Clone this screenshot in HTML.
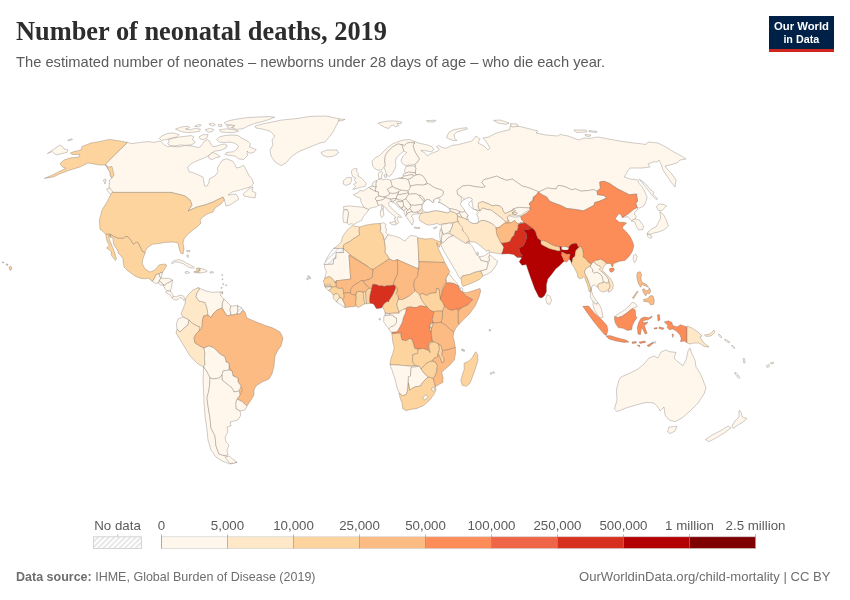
<!DOCTYPE html>
<html><head><meta charset="utf-8">
<style>
html,body{margin:0;padding:0;background:#fff;}
body{width:850px;height:600px;position:relative;overflow:hidden;font-family:"Liberation Sans",sans-serif;}
svg{position:absolute;left:0;top:0;}
text{font-family:"Liberation Sans",sans-serif;}
.title{font-family:"Liberation Serif",serif;font-weight:bold;font-size:27px;fill:#2d2d2d;}
.sub{font-size:15px;fill:#5b5b5b;}
.lg{font-size:13.3px;fill:#5b5b5b;}
.ft{font-size:13px;fill:#6e6e6e;}
</style></head><body>
<svg width="850" height="600" viewBox="0 0 850 600">
<defs>
<pattern id="hatch" patternUnits="userSpaceOnUse" width="3.8" height="3.8" patternTransform="rotate(45)"><rect width="3.8" height="3.8" fill="#fff"/><rect x="0" y="0" width="1.7" height="3.8" fill="#e4e4e4"/></pattern>
</defs>
<text class="title" x="16" y="40" textLength="371" lengthAdjust="spacingAndGlyphs">Number of neonatal deaths, 2019</text>
<text class="sub" x="16" y="66.5" textLength="589" lengthAdjust="spacingAndGlyphs">The estimated number of neonates – newborns under 28 days of age – who die each year.</text>
<!-- logo -->
<rect x="769" y="16" width="65" height="36" fill="#002147"/>
<rect x="769" y="49" width="65" height="3" fill="#ce261e"/>
<text x="774" y="30.4" font-weight="bold" font-size="11.4" fill="#fff" textLength="55" lengthAdjust="spacingAndGlyphs">Our World</text>
<text x="783.4" y="42.6" font-weight="bold" font-size="11.4" fill="#fff" textLength="35.8" lengthAdjust="spacingAndGlyphs">in Data</text>
<!-- MAP -->
<g id="map" stroke="#5f554d" stroke-width="0.3" stroke-linejoin="round">
<polygon fill="#fdbb84" stroke="#fdbb84" stroke-width="0.5" points="241.0,386.0 242.4,390.0 240.0,395.0 239.0,391.0 241.0,386.0"/>
<polygon fill="#fdbb84" stroke="#fdbb84" stroke-width="0.5" points="232.0,371.0 229.0,370.0 229.0,367.0 232.0,371.0"/>
<polygon fill="#fff7ec" stroke="#fff7ec" stroke-width="0.5" points="222.4,308.0 225.0,313.0 222.0,308.0 222.4,303.0 222.4,308.0"/>
<polygon fill="#fff7ec" stroke="#fff7ec" stroke-width="0.5" points="401.2,190.2 400.0,190.6 398.8,189.4 401.2,190.2"/>
<polygon fill="#fdbb84" stroke="#fdbb84" stroke-width="0.5" points="363.9,280.9 363.2,281.1 360.9,280.5 363.9,280.9"/>
<polygon fill="#fdbb84" stroke="#fdbb84" stroke-width="0.5" points="350.1,254.7 368.2,266.7 349.0,255.4 350.1,254.7"/>
<polygon fill="#fdd49e" stroke="#fdd49e" stroke-width="0.5" points="432.5,360.5 435.3,361.9 430.3,361.2 432.5,360.5"/>
<polygon fill="#fdd49e" stroke="#fdd49e" stroke-width="0.5" points="428.9,346.3 430.3,352.7 428.9,350.6 423.2,348.5 428.8,350.6 428.3,346.5 429.0,342.2 432.6,341.5 431.9,338.0 432.6,341.4 434.6,342.1 430.3,342.8 428.9,346.3"/>
<polygon fill="#fdbb84" stroke="#fdbb84" stroke-width="0.5" points="431.9,326.7 431.2,332.3 431.6,328.1 431.9,326.7"/>
<polygon fill="#fc8d59" stroke="#fc8d59" stroke-width="0.5" points="458.1,311.1 456.7,309.0 462.3,307.5 458.1,311.1"/>
<polygon fill="#fff7ec" stroke="#fff7ec" stroke-width="0.5" points="566.7,246.9 568.8,247.6 568.7,248.7 566.7,246.9"/>
<polygon fill="#d7301f" stroke="#d7301f" stroke-width="0.5" points="523.7,223.3 524.4,222.6 527.3,224.4 525.1,223.7 523.7,223.3"/>
<polygon fill="#fff7ec" stroke="#fff7ec" stroke-width="0.5" points="514.4,217.2 511.5,216.5 509.0,215.8 507.5,217.0 509.4,215.1 515.1,215.1 516.5,215.8 521.4,215.1 525.0,212.2 530.2,209.6 529.7,210.5 526.2,213.3 521.2,216.2 520.8,216.5 518.0,216.9 514.4,217.2"/>
<polygon fill="#fc8d59" stroke="#fc8d59" stroke-width="0.5" points="530.5,206.6 531.2,207.7 530.4,209.2 528.5,208.0 530.5,206.6"/>
<polygon fill="#fc8d59" stroke="#fc8d59" stroke-width="0.5" points="532.1,200.9 533.5,196.7 536.8,194.4 536.1,195.6 533.3,197.7 534.0,200.6 530.5,202.7 529.5,203.7 529.2,203.0 532.1,200.9"/>
<polygon fill="#fdbb84" stroke="#fdbb84" stroke-width="0.5" points="446.1,279.1 446.7,282.7 445.3,285.6 443.2,289.8 441.8,294.8 440.1,299.0 443.4,285.8 445.5,283.0 446.1,279.1"/>
<polygon fill="#fff7ec" stroke="#fff7ec" stroke-width="0.5" points="418.9,263.9 418.4,250.4 418.9,261.7 418.9,263.9"/>
<polygon fill="#fdbb84" stroke="#fdbb84" stroke-width="0.5" points="398.4,299.4 398.0,295.8 399.1,299.4 398.4,299.4"/>
<polygon fill="#fff7ec" stroke="#fff7ec" stroke-width="0.5" points="408.4,383.2 407.7,390.2 408.4,376.8 408.4,383.2"/>
<polygon fill="#fff7ec" stroke="#fff7ec" stroke-width="0.5" points="538.4,192.0 538.3,192.0 538.4,192.0 538.4,192.0"/>
<polygon fill="#fff7ec" stroke="#fff7ec" stroke-width="0.5" points="450.3,230.9 449.2,233.6 446.0,233.6 450.3,230.9"/>
<polygon fill="#fee8c8" stroke="#fee8c8" stroke-width="0.5" points="468.0,242.8 466.1,243.2 466.8,242.1 468.1,241.6 467.5,241.9 468.0,242.8"/>
<polygon fill="#fee8c8" stroke="#fee8c8" stroke-width="0.5" points="450.5,223.0 450.9,223.0 454.1,222.4 454.5,222.4 452.9,224.0 450.5,223.0"/>
<polygon fill="#fdbb84" stroke="#fdbb84" stroke-width="0.5" points="509.4,223.0 504.3,223.3 499.3,227.3 496.1,228.0 496.0,228.9 495.7,227.6 496.1,228.0 499.2,227.3 504.3,223.3 505.9,222.2 508.0,220.7 507.4,217.8 507.9,219.4 509.0,220.4 509.4,223.0"/>
<polygon fill="#fee8c8" stroke="#fee8c8" stroke-width="0.5" points="483.4,220.4 483.9,220.3 483.9,220.3 483.4,220.4"/>
<polygon fill="#fff7ec" stroke="#fff7ec" stroke-width="0.5" points="486.7,221.4 488.2,221.9 492.5,224.0 493.4,224.9 492.5,224.0 488.2,221.9 486.7,221.4"/>
<polygon fill="#fee8c8" stroke="#fee8c8" stroke-width="0.5" points="496.8,234.7 496.7,234.3 497.2,235.2 497.3,235.8 496.8,234.7"/>
<polygon fill="#fee8c8" stroke="#fee8c8" stroke-width="0.5" points="463.2,230.6 463.1,231.0 462.0,229.9 462.2,229.0 463.2,230.6"/>
<polygon fill="#fff7ec" stroke="#fff7ec" stroke-width="0.5" points="488.0,264.6 487.3,261.7 489.4,260.3 488.0,264.6"/>
<polygon fill="#fdd49e" stroke="#fdd49e" stroke-width="0.5" points="591.2,264.8 590.5,265.9 589.1,266.6 591.2,264.8"/>
<polygon fill="#fee8c8" stroke="#fee8c8" stroke-width="0.5" points="603.2,281.4 604.6,282.1 602.5,282.8 603.2,281.4"/>
<polygon fill="#fff7ec" points="47.4,153.6 60.0,145.0 63.0,147.0 64.0,149.0 68.0,150.0 67.0,152.4 60.0,154.0 56.0,155.0 52.4,151.6"/>
<polygon fill="#fff7ec" points="67.6,140.0 72.0,138.8 72.4,139.8 68.4,140.8"/>
<polygon fill="#fff7ec" points="127.4,142.4 132.0,143.6 140.0,142.4 148.0,141.6 154.0,142.4 160.0,141.0 164.2,144.7 167.7,146.8 171.2,146.1 178.3,146.8 185.4,145.4 192.5,146.1 198.2,147.5 200.3,146.8 202.4,144.0 204.5,141.1 207.4,139.7 209.5,141.1 210.9,144.0 213.0,146.8 216.6,146.1 220.8,144.7 224.4,144.0 227.2,145.4 225.8,148.2 220.8,150.3 215.2,151.0 212.3,152.5 208.1,156.0 203.8,158.1 196.7,160.9 191.1,163.8 187.5,167.3 189.0,171.6 193.9,173.0 198.9,175.1 203.1,177.2 203.8,181.5 204.5,185.7 206.7,186.4 208.8,182.9 209.5,178.7 215.2,175.8 218.0,171.6 217.3,168.0 219.4,164.5 222.2,160.2 226.5,158.8 232.2,160.9 235.0,164.5 236.4,168.0 239.9,167.3 243.5,165.2 246.3,170.2 249.2,175.8 252.0,179.0 253.6,184.0 250.0,187.0 240.0,190.0 232.0,192.0 228.0,195.0 236.0,194.0 239.0,199.0 230.0,205.0 226.0,206.0 225.0,202.0 224.4,200.0 223.0,197.0 219.0,199.0 213.0,202.0 205.0,205.0 197.0,207.0 188.0,211.0 192.0,205.0 190.0,200.0 185.0,196.0 179.0,194.4 171.0,192.4 112.0,192.4 110.4,192.6 109.0,188.0 109.6,180.0 112.0,178.0 110.4,176.0 110.0,172.0 108.0,169.0 105.4,164.0"/>
<polygon fill="#fff7ec" points="106.4,189.0 110.0,188.0 114.4,194.0 113.0,196.4 109.0,193.0"/>
<polygon fill="#fff7ec" points="103.4,180.0 106.0,179.0 105.0,184.0"/>
<polygon fill="#fdd49e" points="127.4,142.4 120.0,141.0 109.6,139.4 100.0,141.4 91.0,143.0 82.0,146.4 81.0,150.0 74.0,151.6 70.4,153.0 72.0,154.4 80.0,154.4 79.0,157.0 70.0,158.0 64.0,160.0 60.0,163.6 62.4,167.0 66.0,168.4 60.0,171.0 52.4,175.0 44.4,178.4 53.0,177.0 62.0,173.0 70.0,170.0 80.0,167.0 88.0,163.0 94.0,164.0 100.0,165.0 105.0,165.0 108.0,167.0 112.0,166.6 113.0,171.0 114.0,175.0 112.0,178.0 110.4,176.0 110.0,172.0 108.0,169.0 105.4,164.0"/>
<polygon fill="#fff7ec" points="159.2,138.3 162.7,135.5 167.7,133.3 174.1,133.0 179.0,134.7 176.9,136.9 171.2,138.3 165.6,139.7 161.3,140.4"/>
<polygon fill="#fff7ec" points="168.4,139.7 172.7,138.3 179.7,136.9 186.8,136.2 191.1,135.5 193.9,136.9 192.5,139.7 195.3,142.1 191.8,144.7 186.1,145.4 180.5,144.9 174.8,146.1 169.8,145.4 167.7,144.0 169.1,141.8"/>
<polygon fill="#fff7ec" points="175.5,129.1 181.2,127.0 188.2,126.2 189.7,127.7 185.4,129.1 190.4,129.8 195.3,128.4 200.3,129.1 199.6,131.2 193.9,132.2 188.2,132.6 182.6,131.9 178.3,130.5"/>
<polygon fill="#fff7ec" points="194.6,126.2 198.9,124.5 201.3,125.1 198.2,127.0"/>
<polygon fill="#fff7ec" points="198.9,136.9 203.1,134.7 208.1,134.5 206.7,138.3 203.1,139.7 200.3,139.0"/>
<polygon fill="#fff7ec" points="205.2,129.8 209.5,128.4 213.7,129.4 212.3,131.6 208.1,132.2"/>
<polygon fill="#fff7ec" points="208.8,124.1 213.0,123.1 215.4,124.8 212.3,126.0"/>
<polygon fill="#fff7ec" points="218.0,124.8 221.5,124.5 222.2,126.2 219.1,126.5"/>
<polygon fill="#fff7ec" points="219.4,129.8 226.5,128.8 235.0,129.8 238.5,131.2 233.6,132.6 226.5,132.6 220.8,131.9"/>
<polygon fill="#fff7ec" points="224.4,122.7 229.3,120.6 236.4,119.2 246.3,117.7 257.6,117.0 270.0,116.6 274.6,117.2 270.0,119.2 263.3,121.3 254.8,123.4 247.7,126.2 242.8,128.8 236.4,129.4 231.4,127.7 235.0,125.5 229.3,124.8 225.8,124.5"/>
<polygon fill="#fff7ec" points="226.5,126.0 231.4,125.1 233.6,127.0 229.3,128.4"/>
<polygon fill="#fff7ec" points="216.6,139.7 219.4,136.9 225.1,135.5 232.2,135.0 237.8,135.5 242.1,138.3 247.7,141.1 250.6,144.0 249.2,146.8 256.2,149.6 253.4,152.5 249.2,153.2 247.0,151.0 247.7,155.3 243.5,159.5 238.5,158.8 235.0,156.0 229.3,155.3 225.1,154.6 226.5,152.5 233.6,151.7 237.1,148.9 238.5,146.1 235.0,143.2 229.3,142.1 223.7,142.5 219.4,142.1"/>
<polygon fill="#fff7ec" points="208.1,156.0 212.3,152.5 216.6,153.9 220.1,156.7 215.9,157.7 212.3,159.5 209.5,158.8"/>
<polygon fill="#fff7ec" points="243.0,194.0 250.0,188.0 253.0,187.0 252.0,191.0 256.0,193.0 255.0,198.0 249.0,197.0 244.0,196.0"/>
<polygon fill="#fff7ec" points="255.0,126.0 264.0,123.6 282.0,120.0 298.0,118.4 310.0,116.4 326.0,116.0 340.0,119.0 337.0,124.0 333.0,132.0 330.0,136.0 325.0,142.0 320.0,143.0 310.0,147.0 300.0,151.0 292.0,156.0 286.0,163.0 281.0,165.6 275.0,162.0 271.0,156.0 270.0,150.0 273.0,145.0 272.0,140.0 275.0,136.0 270.0,131.0 262.0,129.0 256.0,128.0"/>
<polygon fill="#fff7ec" points="321.0,152.4 327.0,150.0 337.0,150.0 338.6,153.0 334.0,156.0 328.0,157.0 323.0,155.6"/>
<polygon fill="#fdd49e" points="112.0,192.4 171.0,192.4 179.0,194.4 185.0,196.0 190.0,200.0 192.0,205.0 188.0,211.0 197.0,207.0 205.0,205.0 213.0,202.0 219.0,199.0 223.0,197.0 224.4,200.0 221.0,204.0 215.0,208.0 213.0,212.0 207.0,214.0 203.0,217.0 200.0,220.0 201.0,223.0 197.0,227.0 193.0,230.0 187.0,235.0 184.0,239.0 183.0,243.0 184.0,249.0 183.0,254.0 180.6,253.0 179.0,248.0 178.0,243.0 173.0,242.0 165.0,242.4 159.0,243.6 153.0,244.0 148.0,247.0 145.0,251.6 145.2,252.6 142.3,251.5 140.9,248.7 138.0,242.6 136.2,242.2 133.4,244.4 130.8,240.4 128.0,236.8 125.1,236.5 123.7,238.3 117.9,238.3 113.6,236.5 110.4,234.3 105.8,234.3 102.9,231.5 100.0,229.3 99.4,220.0 102.0,210.0 107.0,202.0 110.0,196.0"/>
<polygon fill="#fdd49e" points="110.4,234.3 113.6,236.5 117.9,238.3 123.7,238.3 125.1,236.5 128.0,236.8 130.8,240.4 133.4,244.4 136.2,242.2 138.0,242.6 140.9,248.7 142.3,251.5 145.2,252.6 144.1,255.8 142.7,259.4 142.3,263.7 145.0,269.0 150.0,272.0 155.0,270.0 159.0,265.0 164.0,264.0 166.6,265.0 165.6,267.6 164.0,270.3 162.4,272.4 160.3,272.9 159.2,274.0 156.0,274.5 154.9,277.7 152.3,281.4 151.2,280.4 148.5,278.3 144.3,278.8 140.0,278.2 135.0,276.0 128.0,271.0 124.0,267.0 123.0,261.0 123.0,258.7 120.1,255.1 117.9,253.0 118.3,251.9 116.5,248.7 114.0,245.1 113.3,241.5 112.8,237.8 110.4,237.2"/>
<polygon fill="#fdd49e" points="105.8,234.3 110.4,234.3 110.4,237.2 109.3,235.0 109.0,237.5 109.7,240.4 111.1,243.6 112.6,247.2 114.0,250.8 115.4,255.1 116.5,258.7 115.4,260.5 114.0,258.7 112.2,256.5 111.1,254.4 111.5,251.9 109.3,250.1 106.5,247.9 108.3,246.5 109.3,245.1 107.5,242.2 106.5,239.3 106.1,236.5"/>
<polygon fill="#fff7ec" points="152.3,281.4 154.9,277.7 156.0,274.5 159.2,274.0 159.7,276.1 160.8,278.3 159.2,280.9 158.1,283.0 156.0,283.6 153.9,282.5"/>
<polygon fill="#fff7ec" points="160.3,272.9 162.4,272.4 161.9,275.6 160.8,278.3 159.7,276.1 159.2,274.0"/>
<polygon fill="#fff7ec" points="160.8,278.3 164.5,278.3 168.8,278.3 172.5,279.9 170.4,282.0 167.2,283.0 165.1,285.2 163.5,285.2 161.9,283.0 159.2,280.9"/>
<polygon fill="#fff7ec" points="158.1,283.0 159.2,280.9 161.9,283.0 163.5,285.2 160.8,285.2"/>
<polygon fill="#fff7ec" points="163.5,285.2 165.1,285.2 167.2,283.0 170.4,282.0 172.5,279.9 172.0,284.1 171.4,287.8 170.4,291.0 167.2,291.0 165.1,288.9"/>
<polygon fill="#fff7ec" points="167.2,291.0 170.4,291.0 172.0,293.7 173.6,296.4 172.0,298.0 170.4,295.3 167.7,293.7 165.6,292.1"/>
<polygon fill="#fff7ec" points="172.0,298.0 173.6,296.4 176.2,296.9 179.4,295.3 182.1,295.3 184.2,296.9 185.3,299.6 183.7,300.6 182.6,298.5 180.0,297.4 177.8,299.6 175.7,300.1 173.0,299.0"/>
<polygon fill="#fff7ec" points="171.4,262.8 174.1,260.7 178.4,259.6 182.6,260.7 186.9,263.3 191.2,265.5 194.4,267.1 193.3,268.1 189.0,267.6 186.9,266.0 183.7,263.9 179.4,262.3 175.2,261.9 172.0,263.6"/>
<polygon fill="#fdd49e" points="196.5,268.1 199.7,268.1 200.2,270.8 198.1,271.3 199.2,272.9 194.4,272.6 193.8,271.6 197.0,271.3"/>
<polygon fill="#fff7ec" points="199.7,268.1 204.0,269.2 207.2,270.8 206.6,271.9 203.4,272.4 200.8,272.9 199.2,272.9 198.1,271.3 200.2,270.8"/>
<polygon fill="#fff7ec" points="185.0,271.9 187.4,271.3 189.6,272.4 188.0,273.5 185.6,273.2"/>
<polygon fill="#fff7ec" points="209.8,271.9 213.0,271.6 213.6,272.6 210.4,273.2"/>
<polygon fill="#fff7ec" points="186.9,254.8 188.5,255.3 188.2,257.5 187.1,256.9"/>
<polygon fill="#fff7ec" points="186.4,250.5 190.1,250.5 189.6,251.9 186.9,251.6"/>
<polygon fill="#fff7ec" points="219.4,292.1 222.6,291.6 222.9,293.2 220.0,293.7"/>
<polygon fill="#fff7ec" points="221.7,274.6 222.5,274.6 222.5,275.5 221.7,275.5"/>
<polygon fill="#fff7ec" points="222.2,278.9 223.0,278.9 223.0,279.7 222.2,279.7"/>
<polygon fill="#fff7ec" points="222.7,283.7 223.6,283.7 223.6,284.5 222.7,284.5"/>
<polygon fill="#fff7ec" points="221.1,287.4 222.0,287.4 222.0,288.3 221.1,288.3"/>
<polygon fill="#fff7ec" points="225.7,284.8 226.6,284.8 226.6,285.6 225.7,285.6"/>
<polygon fill="#fee8c8" points="185.6,299.0 188.0,295.0 193.0,290.0 198.4,287.6 199.6,289.0 197.0,293.0 196.0,297.0 199.0,301.0 205.0,302.4 207.0,308.0 208.0,315.0 203.6,316.0 202.4,321.0 202.0,328.0 199.0,331.0 200.0,327.0 197.0,326.0 192.0,323.0 189.0,320.0 183.0,317.0 181.0,314.0 183.0,309.0 185.0,304.0"/>
<polygon fill="#fff7ec" points="198.4,287.6 199.6,289.0 197.0,293.0 196.0,297.0 199.0,301.0 205.0,302.4 207.0,308.0 208.0,315.0 211.0,317.6 213.0,314.0 217.0,310.0 222.0,308.0 222.4,303.0 224.0,299.0 220.0,295.0 223.0,293.0 218.0,292.0 212.0,292.4 206.0,291.0 201.0,289.0"/>
<polygon fill="#fff7ec" points="224.0,299.0 228.0,303.0 231.0,306.0 230.0,310.0 231.0,315.0 227.0,316.0 225.0,313.0 222.4,308.0 222.4,303.0"/>
<polygon fill="#fff7ec" points="231.0,306.0 237.6,305.6 238.0,310.0 237.0,314.0 233.0,315.0 231.0,315.0 230.0,310.0"/>
<polygon fill="url(#hatch)" points="237.6,305.6 242.0,308.0 243.0,310.0 240.0,314.0 237.0,314.0 238.0,310.0"/>
<polygon fill="#fff7ec" points="183.0,317.0 189.0,320.0 188.0,325.0 183.0,329.0 180.0,332.0 177.0,329.0 176.4,324.0 178.0,319.0"/>
<polygon fill="#fee8c8" points="177.0,329.0 180.0,332.0 183.0,329.0 188.0,325.0 189.0,320.0 192.0,323.0 197.0,326.0 200.0,327.0 199.0,331.0 196.0,334.0 194.0,338.0 195.0,343.0 200.0,346.0 204.0,348.0 205.0,354.0 204.4,358.0 205.0,364.0 203.6,367.0 198.0,364.0 190.0,356.0 184.0,346.0 179.0,338.0 176.0,333.0"/>
<polygon fill="#fdbb84" points="208.0,315.0 211.0,317.6 213.0,314.0 217.0,310.0 222.0,308.0 225.0,313.0 227.0,316.0 231.0,315.0 233.0,315.0 237.0,314.0 240.0,314.0 243.0,310.0 245.0,312.0 247.0,318.0 254.0,321.0 264.0,325.0 273.0,328.0 280.0,332.0 283.0,338.0 281.0,346.0 278.0,350.0 275.0,356.0 274.0,366.0 272.0,374.0 269.0,379.0 262.0,382.0 256.0,386.0 254.0,390.0 254.0,395.0 251.0,400.0 247.0,406.0 242.0,401.6 237.0,399.0 240.0,395.0 242.4,390.0 241.0,386.0 238.0,382.0 238.0,378.0 233.0,376.0 232.0,371.0 229.0,367.0 229.0,363.0 226.0,362.0 225.0,357.0 220.0,354.0 214.0,348.0 209.0,346.0 204.0,348.0 200.0,346.0 195.0,343.0 194.0,338.0 196.0,334.0 199.0,331.0 202.0,328.0 202.4,321.0 203.6,316.0"/>
<polygon fill="#fff7ec" points="204.0,348.0 209.0,346.0 214.0,348.0 220.0,354.0 225.0,357.0 226.0,362.0 229.0,363.0 229.0,367.0 229.0,370.0 223.0,371.0 222.0,375.0 219.0,378.0 214.0,379.0 210.0,378.0 207.0,372.0 203.6,367.0 205.0,364.0 204.4,358.0 205.0,354.0"/>
<polygon fill="#fff7ec" points="222.0,375.0 223.0,371.0 229.0,370.0 232.0,371.0 233.0,376.0 238.0,378.0 238.0,382.0 241.0,386.0 239.0,391.0 234.0,392.0 232.0,388.0 227.0,384.0 222.0,380.0"/>
<polygon fill="#fff7ec" points="237.0,399.0 242.0,401.6 247.0,406.0 245.0,410.0 240.0,411.0 236.0,409.0 235.6,403.0"/>
<polygon fill="#fff7ec" points="203.6,367.0 203.0,380.0 203.6,390.0 204.0,402.0 205.0,416.0 207.0,430.0 208.0,440.0 211.0,450.0 216.0,457.0 222.0,461.0 230.0,464.0 237.0,462.4 230.0,459.0 227.0,456.0 224.0,455.6 219.0,454.0 216.0,446.0 215.0,436.0 211.0,428.0 210.0,418.0 208.0,406.0 207.0,398.0 209.0,390.0 210.0,380.0 210.0,378.0 207.0,372.0"/>
<polygon fill="#fff7ec" points="210.0,378.0 214.0,379.0 219.0,378.0 222.0,375.0 222.0,380.0 227.0,384.0 232.0,388.0 234.0,392.0 239.0,391.0 240.0,395.0 237.0,399.0 235.6,403.0 236.0,409.0 240.0,411.0 241.0,415.0 238.0,420.0 230.0,422.0 231.0,426.0 227.0,427.0 228.0,432.0 225.0,437.0 226.0,442.0 229.0,445.0 227.0,450.0 228.0,455.0 224.0,455.6 219.0,454.0 216.0,446.0 215.0,436.0 211.0,428.0 210.0,418.0 208.0,406.0 207.0,398.0 209.0,390.0 210.0,380.0"/>
<polygon fill="#fff7ec" points="225.0,457.0 229.0,456.0 237.0,462.4 230.0,463.6"/>
<polygon fill="url(#hatch)" points="324.2,264.5 326.1,259.8 329.4,254.1 333.6,248.2 343.3,248.2 343.8,252.7 336.2,252.5 336.0,258.4 333.6,259.3 333.2,264.2"/>
<polygon fill="#fee8c8" points="334.2,248.3 337.7,245.5 341.2,241.9 342.7,236.2 346.9,230.6 349.7,227.7 351.9,225.6 356.1,226.3 359.7,227.0 359.0,230.6 359.7,234.8 355.4,237.7 352.6,239.1 350.5,241.2 344.8,244.0 343.4,245.5 343.4,248.3"/>
<polygon fill="#fdd49e" points="359.7,227.0 365.3,225.2 373.8,223.8 380.2,223.5 380.9,229.2 380.2,231.3 383.0,234.8 384.4,240.5 385.4,247.6 385.2,252.5 388.0,256.1 389.4,258.9 373.1,269.5 370.3,268.8 368.2,266.7 350.1,254.7 343.4,248.5 343.4,245.5 344.8,244.0 350.5,241.2 352.6,239.1 355.4,237.7 359.7,234.8 359.0,230.6"/>
<polygon fill="#fff7ec" points="380.2,223.5 383.7,222.8 385.9,224.2 385.2,227.0 386.6,229.2 385.9,232.7 388.0,234.8 386.6,237.0 384.4,240.5 383.0,234.8 380.2,231.3 380.9,229.2"/>
<polygon fill="#fff7ec" points="384.4,240.5 386.6,237.0 388.0,234.8 392.2,235.5 399.3,237.7 405.0,241.2 407.1,238.4 410.7,235.5 416.3,236.2 417.7,237.7 418.4,250.4 418.9,263.9 418.9,268.1 416.3,268.1 397.2,259.6 393.7,261.0 389.4,258.9 388.0,256.1 385.2,252.5 385.4,247.6"/>
<polygon fill="#fdd49e" points="417.7,237.7 425.7,239.1 432.0,238.4 436.4,240.5 441.2,242.1 440.3,244.7 439.1,247.4 437.6,244.7 436.7,242.6 437.7,246.9 440.5,253.2 443.4,258.9 444.8,262.5 418.9,261.7 418.4,250.4"/>
<polygon fill="#fff7ec" points="324.2,264.5 333.2,264.2 333.6,259.3 336.0,258.4 336.2,252.5 343.8,252.7 343.4,248.5 350.1,254.7 349.0,255.4 350.7,279.1 336.2,280.8 335.2,283.3 333.8,280.5 331.6,278.0 329.2,276.6 327.1,277.3 324.6,278.7 326.4,271.7 325.0,268.8"/>
<polygon fill="#fdbb84" points="349.0,255.4 368.2,266.7 370.3,268.8 373.1,269.5 372.4,277.3 368.9,279.4 363.9,280.9 360.9,280.5 358.5,282.6 355.3,284.4 352.5,286.5 350.7,289.6 350.3,293.2 348.6,292.5 347.2,293.2 344.7,292.8 343.6,293.2 343.3,290.3 342.2,287.9 340.5,288.6 337.3,287.9 335.9,286.5 336.2,280.8 350.7,279.1"/>
<polygon fill="#fdbb84" points="373.1,269.5 389.4,258.9 393.7,261.0 397.2,259.6 397.9,267.4 397.3,275.0 395.8,277.9 394.4,280.7 393.7,283.6 395.3,286.1 393.3,285.0 390.1,285.8 386.5,285.8 384.4,286.5 381.5,285.8 379.4,286.1 377.2,285.0 374.3,284.2 372.5,284.7 371.8,288.6 369.7,288.3 367.9,286.5 365.7,285.0 363.2,281.1 363.9,280.9 368.9,279.4 372.4,277.3"/>
<polygon fill="#fdbb84" points="397.2,259.6 416.3,268.1 418.9,268.1 417.5,276.6 414.5,280.2 413.8,285.8 415.2,290.8 412.3,293.6 409.5,295.8 405.9,297.9 402.3,299.7 399.1,299.4 398.0,295.8 395.8,293.6 396.9,291.5 397.3,289.3 396.6,287.5 395.3,286.1 393.7,283.6 394.4,280.7 395.8,277.9 397.3,275.0 397.9,267.4"/>
<polygon fill="#fdbb84" points="418.9,261.7 444.8,262.5 447.6,267.4 449.7,271.7 448.3,274.5 446.2,278.7 445.5,283.0 443.4,285.8 440.1,299.0 439.0,289.1 436.8,288.4 436.1,292.7 430.5,293.4 426.2,295.5 422.7,293.4 419.8,294.8 415.2,290.8 413.8,285.8 414.5,280.2 417.5,276.6 418.9,268.1"/>
<polygon fill="#fdd49e" points="323.2,281.2 324.6,278.7 327.1,277.3 329.2,276.6 331.6,278.0 333.8,280.5 335.2,283.3 336.2,280.8 335.9,286.5 334.1,287.2 331.3,286.8 328.5,287.0 325.3,287.2 324.6,286.1 324.2,283.6"/>
<polygon fill="#fff7ec" points="324.6,284.8 328.5,284.1 330.9,284.5 330.6,285.4 327.8,285.6 324.8,286.0"/>
<polygon fill="#fff7ec" points="325.3,287.2 328.5,287.0 331.3,286.8 331.6,288.2 329.9,289.6 328.5,290.5 326.7,289.3"/>
<polygon fill="#fdd49e" points="331.3,286.8 334.1,287.2 335.9,286.5 337.3,287.9 340.5,288.6 342.2,287.9 343.3,290.3 343.6,293.2 344.3,296.0 343.6,298.8 342.6,299.9 341.5,297.8 340.1,298.1 338.7,295.3 336.9,293.5 335.2,293.9 333.4,295.3 332.4,293.9 330.2,291.4 328.5,290.5 329.9,289.6 331.6,288.2"/>
<polygon fill="#fee8c8" points="333.4,295.3 335.2,293.9 336.9,293.5 338.7,295.3 340.1,298.1 339.1,298.1 337.6,300.2 336.6,302.0 334.5,299.9 333.1,297.8"/>
<polygon fill="#fff7ec" points="336.6,302.0 337.6,300.2 339.1,298.1 340.1,298.1 341.5,297.8 342.6,299.9 343.6,301.6 345.1,305.2 345.1,307.6 342.6,306.2 339.8,304.1"/>
<polygon fill="#fdbb84" points="343.6,293.2 344.7,292.8 347.2,293.2 348.6,292.5 350.3,293.2 352.5,294.6 356.0,294.7 356.3,298.8 355.6,302.3 356.3,305.9 353.9,306.6 349.6,306.9 346.8,307.3 345.1,307.6 345.1,305.2 343.6,301.6 342.6,299.9 343.6,298.8 344.3,296.0"/>
<polygon fill="#fdd49e" points="356.0,294.7 356.3,291.8 359.5,291.4 363.0,291.8 363.8,295.3 364.1,299.5 364.8,303.8 362.3,305.2 359.5,306.9 357.4,307.3 356.3,305.9 355.6,302.3 356.3,298.8"/>
<polygon fill="#fee8c8" points="363.0,291.8 365.5,292.1 365.9,295.3 366.2,299.5 366.6,303.8 364.8,303.8 364.1,299.5 363.8,295.3"/>
<polygon fill="#fdd49e" points="365.5,292.1 366.6,290.3 368.7,288.6 369.7,288.3 371.8,288.6 370.8,292.2 370.0,295.8 369.7,299.4 370.0,303.3 366.6,303.8 366.2,299.5 365.9,295.3"/>
<polygon fill="#fdbb84" points="350.3,293.2 350.7,289.6 352.5,286.5 355.3,284.4 358.5,282.6 360.9,280.5 363.2,281.1 365.7,285.0 367.9,286.5 369.7,288.3 368.7,288.6 366.6,290.3 365.5,292.1 363.0,291.8 359.5,291.4 356.3,291.8 356.0,294.7 352.5,294.6"/>
<polygon fill="#d7301f" points="372.5,284.7 374.3,284.2 377.2,285.0 379.4,286.1 381.5,285.8 384.4,286.5 386.5,285.8 390.1,285.8 393.3,285.0 395.3,286.1 395.8,288.3 394.8,290.4 393.7,292.9 392.3,295.8 390.8,297.9 389.4,300.1 388.7,301.9 387.6,301.5 386.2,302.2 384.4,303.7 382.9,305.8 381.5,308.0 379.4,308.3 376.8,308.7 375.4,307.3 374.3,305.1 372.9,303.7 370.0,303.3 369.7,299.4 370.0,295.8 370.8,292.2 371.8,288.6"/>
<polygon fill="#fdd49e" points="395.3,286.1 396.6,287.5 397.3,289.3 396.9,291.5 395.8,293.6 398.0,295.8 398.4,299.4 397.3,302.2 396.9,305.1 398.0,308.7 399.1,311.6 399.3,313.2 393.7,313.2 388.0,313.6 385.2,313.2 384.4,310.4 383.0,308.2 382.9,305.8 384.4,303.7 386.2,302.2 387.6,301.5 388.7,301.9 389.4,300.1 390.8,297.9 392.3,295.8 393.7,292.9 394.8,290.4 395.8,288.3"/>
<polygon fill="#fee8c8" points="398.4,299.4 399.1,299.4 402.3,299.7 405.9,297.9 409.5,295.8 412.3,293.6 415.2,290.8 419.8,294.8 421.2,299.0 424.1,303.3 426.9,306.8 420.0,305.8 417.3,307.3 414.5,307.6 410.2,306.9 407.3,307.3 405.9,308.7 403.0,309.4 401.6,310.8 399.1,311.6 398.0,308.7 396.9,305.1 397.3,302.2"/>
<polygon fill="#fdd49e" points="419.8,294.8 422.7,293.4 426.2,295.5 430.5,293.4 436.1,292.7 436.8,288.4 439.0,289.1 440.1,299.0 442.5,301.9 444.6,306.1 442.5,311.1 436.8,311.1 434.0,311.8 430.5,310.4 426.9,306.8 424.1,303.3 421.2,299.0"/>
<polygon fill="#fc8d59" points="405.2,313.7 405.9,310.8 405.9,308.7 407.3,307.3 410.2,306.9 414.5,307.6 417.3,307.3 420.0,305.8 426.9,306.8 430.5,310.4 434.0,311.8 433.3,315.3 432.3,319.6 433.3,323.1 430.5,323.8 429.7,329.5 431.2,332.3 431.9,338.0 432.6,341.5 429.0,342.2 428.3,346.5 429.0,352.2 430.3,352.7 428.9,350.6 423.2,348.5 418.3,349.2 414.7,348.5 413.3,343.5 411.9,339.2 409.8,338.5 406.2,340.7 402.0,340.0 400.6,335.0 401.4,333.0 392.2,333.7 391.5,332.3 397.2,331.6 400.0,326.7 402.2,322.4 403.6,316.7"/>
<polygon fill="#fff7ec" points="385.2,313.2 388.0,313.6 393.7,313.2 399.3,313.2 399.1,311.6 401.6,310.8 403.0,309.4 405.9,308.7 405.9,310.8 405.2,313.7 403.6,316.7 402.2,322.4 400.0,326.7 397.2,331.6 391.5,332.3 390.1,330.9 388.7,328.8 390.8,326.7 393.7,325.9 396.5,322.4 396.5,318.2 393.7,316.7 392.9,315.3 389.4,315.0 385.4,315.3"/>
<polygon fill="#fff7ec" points="384.4,315.3 385.4,315.3 389.4,315.0 392.9,315.3 393.7,316.7 396.5,318.2 396.5,322.4 393.7,325.9 390.8,326.7 388.7,328.8 385.9,325.2 383.7,321.7 383.7,318.2"/>
<polygon fill="#fff7ec" points="385.2,313.2 389.4,313.6 389.4,315.0 385.4,315.3"/>
<polygon fill="#fc8d59" points="446.7,282.7 449.6,282.5 454.5,283.5 458.1,285.6 459.5,289.1 462.3,292.0 466.6,296.2 472.9,299.5 468.0,304.7 462.3,307.5 456.7,309.0 451.7,310.4 448.2,309.0 444.6,306.1 442.5,301.9 440.1,299.0 441.8,294.8 443.2,289.8 445.3,285.6"/>
<polygon fill="#fff7ec" points="446.7,282.7 446.0,278.5 448.2,274.2 450.3,275.0 453.1,279.2 456.7,282.7 460.2,287.7 461.6,289.8 459.5,289.1 458.1,285.6 454.5,283.5 449.6,282.5"/>
<polygon fill="#fff7ec" points="459.5,289.1 461.6,287.7 463.0,289.8 462.3,292.0"/>
<polygon fill="#fdbb84" points="462.3,292.0 466.6,292.7 473.7,290.5 480.0,288.4 480.7,291.2 478.6,298.3 475.1,306.1 469.4,313.9 463.7,319.6 459.5,323.8 458.1,323.1 458.1,316.7 458.1,311.1 462.3,307.5 468.0,304.7 472.9,299.5 466.6,296.2"/>
<polygon fill="#fdbb84" points="442.5,311.1 444.6,306.1 448.2,309.0 451.7,310.4 456.7,309.0 458.1,311.1 458.1,316.7 458.1,323.1 459.5,323.8 455.9,328.1 453.8,332.3 449.6,328.8 444.6,324.5 441.1,322.4 442.5,316.7"/>
<polygon fill="#fdbb84" points="434.0,311.8 436.8,311.1 442.5,311.1 442.5,316.7 441.1,322.4 436.8,322.7 433.3,323.1 432.3,319.6 433.3,315.3"/>
<polygon fill="#fdbb84" points="433.3,323.1 436.8,322.7 441.1,322.4 444.6,324.5 449.6,328.8 453.8,332.3 453.1,336.6 454.5,342.2 455.2,347.2 455.4,347.5 447.3,349.9 442.4,350.6 440.9,345.6 438.8,344.2 434.6,342.1 432.5,341.4 432.6,341.5 431.9,338.0 431.2,332.3 431.9,326.7"/>
<polygon fill="#fee8c8" points="430.5,323.8 433.3,323.1 431.9,326.7 431.6,328.1 429.9,327.6"/>
<polygon fill="#fdd49e" points="429.9,327.6 431.6,328.1 431.2,332.3 429.7,329.5"/>
<polygon fill="#fdd49e" points="391.5,333.7 392.2,333.7 401.4,333.0 400.6,335.0 402.0,340.0 406.2,340.7 409.8,338.5 411.9,339.2 413.3,343.5 414.7,348.5 418.3,349.2 417.6,353.4 412.6,354.8 412.6,361.9 415.5,365.5 410.5,366.2 403.4,365.5 397.7,365.0 390.0,364.7 390.7,359.1 392.8,353.4 394.2,347.7 392.8,342.1 392.1,335.0"/>
<polygon fill="#fff7ec" points="390.0,364.7 397.7,365.0 403.4,365.5 410.5,366.2 415.5,365.5 419.0,365.9 415.5,366.9 411.2,367.3 410.5,376.1 408.4,376.8 407.7,390.2 406.2,394.5 402.7,395.9 399.2,393.1 397.0,387.4 394.9,378.9 392.1,370.4"/>
<polygon fill="#fff7ec" points="411.2,367.3 415.5,366.9 419.0,365.9 421.1,369.0 424.0,373.2 428.2,376.8 426.1,378.9 422.5,382.5 420.4,386.0 415.5,386.7 412.6,388.1 409.8,390.2 408.4,383.2 408.4,376.8 410.5,376.1"/>
<polygon fill="#fdd49e" points="399.2,393.1 402.7,395.9 406.2,394.5 407.7,390.2 408.4,383.2 409.8,390.2 412.6,388.1 415.5,386.7 420.4,386.0 422.5,382.5 426.1,378.9 428.2,376.8 433.2,378.2 434.6,383.2 435.3,386.7 436.0,389.5 433.9,394.5 428.9,400.9 423.2,405.8 416.2,408.7 410.5,409.4 406.2,410.8 402.7,408.7 402.0,403.0 399.9,397.3"/>
<polygon fill="#fff7ec" points="422.5,397.3 426.1,394.8 428.2,397.0 424.7,400.2"/>
<polygon fill="#fff7ec" points="431.7,388.1 433.9,387.1 434.9,389.5 433.2,391.4 431.7,390.2"/>
<polygon fill="#fdd49e" points="421.1,369.0 426.1,363.3 430.3,361.2 435.3,361.9 437.4,365.5 436.7,371.8 434.6,376.8 433.2,378.2 428.2,376.8 424.0,373.2"/>
<polygon fill="#fdd49e" points="418.3,349.2 423.2,348.5 428.9,350.6 430.3,352.7 428.9,346.3 430.3,342.8 434.6,342.1 438.8,344.2 439.5,349.2 438.1,353.4 437.4,357.0 433.9,358.4 432.5,360.5 430.3,361.2 426.1,363.3 421.1,369.0 419.0,365.9 415.5,365.5 412.6,361.9 412.6,354.8 417.6,353.4"/>
<polygon fill="#fdbb84" points="442.4,350.6 447.3,349.9 455.4,347.5 455.5,353.4 454.4,359.8 450.2,364.7 444.5,369.7 441.7,372.5 443.1,377.5 442.8,382.5 438.8,384.6 435.3,386.7 434.6,383.2 433.2,378.2 434.6,376.8 436.7,371.8 437.4,365.5 435.3,361.9 432.5,360.5 433.9,358.4 437.4,357.0 438.1,353.4 439.5,356.2 440.9,359.1 441.7,362.6 443.8,361.9 443.8,357.7 441.7,355.5"/>
<polygon fill="#fdd49e" points="438.8,344.2 440.9,345.6 442.4,350.6 441.7,355.5 443.8,357.7 443.8,361.9 441.7,362.6 440.9,359.1 439.5,356.2 438.1,353.4 439.5,349.2"/>
<polygon fill="#fdd49e" points="475.7,351.7 477.8,354.8 477.8,361.2 475.7,367.6 472.8,376.1 470.0,383.2 466.4,386.3 462.2,385.3 460.8,380.3 462.2,375.4 464.3,369.0 464.0,363.3 468.6,361.2 472.1,357.7 474.2,354.1"/>
<polygon fill="#fff7ec" points="414.4,143.3 413.7,141.2 419.4,143.3 426.5,144.7 432.2,146.8 433.9,149.7 431.4,151.8 427.9,151.1 423.7,150.4 420.8,150.4 425.1,153.2 427.2,156.0 429.3,154.6 433.6,152.5 437.8,151.1 439.2,149.0 436.4,146.8 438.5,145.4 442.1,147.5 446.3,148.2 452.0,145.4 457.6,144.7 463.3,143.3 472.0,141.0 476.0,136.0 480.0,139.0 478.0,143.0 484.0,146.0 488.0,150.0 490.0,148.0 487.0,143.0 483.0,138.0 489.0,137.0 494.0,134.0 500.0,132.0 510.0,129.6 510.0,126.0 518.0,126.0 530.0,129.0 538.0,131.0 536.0,133.0 546.0,135.0 558.0,136.0 560.0,134.4 568.0,136.0 576.0,139.0 579.0,140.0 584.0,138.0 590.0,138.4 598.0,137.0 614.0,140.0 626.0,142.0 646.0,144.4 648.0,142.0 658.0,143.0 666.0,147.0 674.0,152.0 680.0,155.0 686.0,159.0 680.0,160.0 677.0,163.0 670.0,165.0 665.0,166.0 668.0,170.0 672.0,174.0 676.0,180.0 675.0,187.0 671.0,182.0 667.0,176.0 663.0,170.0 661.0,164.0 659.0,160.0 657.0,162.0 654.0,161.6 648.0,164.0 650.0,167.0 642.0,168.0 630.0,168.0 627.0,172.0 624.4,177.0 630.0,179.0 638.0,180.0 638.6,182.7 642.2,186.9 645.0,191.9 647.1,197.5 645.7,202.5 643.6,206.0 639.3,208.2 637.2,207.5 635.8,203.2 637.6,201.1 636.5,194.0 629.4,194.7 623.7,191.9 616.7,188.3 609.6,183.4 603.9,181.2 599.7,182.0 600.4,188.3 597.1,191.2 594.0,189.7 588.3,190.5 581.2,191.2 575.6,189.0 571.3,189.7 565.7,186.9 560.0,185.5 558.0,185.6 556.0,189.0 547.0,188.0 543.0,190.0 538.4,192.0 533.5,189.6 527.8,187.5 522.2,186.0 517.2,182.5 512.2,179.0 506.6,180.4 500.9,178.2 496.7,176.1 489.6,178.2 483.9,179.7 481.8,182.5 485.3,186.7 482.5,187.5 475.4,186.7 468.3,185.3 462.7,186.0 457.0,190.3 457.7,194.5 461.2,196.7 461.2,200.2 462.0,204.4 467.4,214.4 464.8,211.2 462.6,212.3 460.0,211.8 456.8,210.2 453.0,209.1 449.3,208.6 445.6,205.9 441.3,203.3 438.1,202.2 440.3,200.1 438.1,197.9 440.3,196.9 442.9,194.7 443.5,191.5 441.3,189.9 436.0,188.3 432.8,186.7 430.1,184.6 427.5,183.5 426.0,184.4 425.5,183.6 426.8,182.4 425.1,179.1 422.7,175.8 419.4,174.5 416.1,174.9 415.2,172.9 415.9,168.1 414.4,166.0 415.9,165.9 414.4,164.5 416.6,163.1 419.4,158.9 416.6,154.6 414.4,150.4 413.0,145.4"/>
<polygon fill="#fff7ec" points="372.7,165.9 372.0,161.0 374.8,158.2 379.7,155.3 384.0,151.1 387.5,147.5 392.5,144.0 397.5,141.9 403.1,140.0 409.5,139.5 413.7,141.2 414.4,143.3 410.9,142.3 406.7,143.3 404.5,145.4 401.7,144.7 398.2,144.0 395.3,145.4 392.5,147.1 388.2,151.1 385.4,155.3 384.7,161.0 385.4,165.2 384.0,167.4 381.9,169.5 377.6,170.2 374.8,168.8"/>
<polygon fill="#fff7ec" points="385.4,165.2 384.7,161.0 385.4,155.3 388.2,151.1 392.5,147.1 395.3,145.4 398.2,144.0 401.7,144.7 403.1,148.2 403.8,151.1 400.3,153.9 396.7,157.5 395.3,161.7 396.0,165.2 394.6,169.5 392.5,173.0 391.1,175.2 389.0,176.6 386.5,174.4 385.4,170.9 384.0,167.4"/>
<polygon fill="#fff7ec" points="401.7,144.7 404.5,145.4 406.7,143.3 410.9,142.3 414.4,143.3 413.0,145.4 414.4,150.4 416.6,154.6 419.4,158.9 416.6,163.1 414.4,164.5 409.5,165.2 405.2,165.5 402.4,163.5 401.0,160.3 403.1,156.0 406.7,152.5 403.8,151.1 403.1,148.2"/>
<polygon fill="#fff7ec" points="343.5,206.7 349.2,205.9 357.7,206.7 364.0,207.4 369.0,209.5 366.9,212.3 363.3,216.6 361.9,220.1 357.7,222.2 354.1,224.4 350.6,223.7 349.2,225.1 347.0,222.9 347.7,218.0 348.5,212.3 347.0,209.5 343.8,210.2"/>
<polygon fill="#fff7ec" points="343.8,210.2 347.0,209.5 348.5,212.3 347.7,218.0 347.0,222.9 343.5,222.2 342.8,216.6 343.5,210.9"/>
<polygon fill="#fff7ec" points="389.5,222.9 394.5,221.5 397.3,222.2 395.2,225.1 391.7,224.4"/>
<polygon fill="#fff7ec" points="380.6,210.2 383.2,209.5 383.9,215.2 381.7,217.7 380.3,215.2"/>
<polygon fill="#fff7ec" points="381.5,205.9 383.2,205.2 383.4,208.8 381.7,209.2"/>
<polygon fill="#fff7ec" points="405.9,166.7 409.5,166.0 414.4,166.0 415.9,168.1 415.2,172.9 412.0,172.5 408.7,172.1 405.4,173.3 404.5,170.8"/>
<polygon fill="#fff7ec" points="402.9,174.1 405.4,173.3 408.7,172.1 412.0,172.5 415.2,172.9 416.1,174.9 413.6,176.2 412.8,174.9 409.5,174.9 406.2,175.8 403.3,176.2"/>
<polygon fill="#fff7ec" points="401.7,178.6 402.9,177.0 403.3,176.2 406.2,175.8 409.5,174.9 412.8,174.9 413.6,176.2 411.1,178.2 407.8,179.5 405.4,178.6"/>
<polygon fill="#fff7ec" points="398.8,178.2 401.7,177.4 402.9,177.0 401.7,178.6"/>
<polygon fill="#fff7ec" points="407.8,179.5 411.1,178.2 413.6,176.2 416.1,174.9 419.4,174.5 422.7,175.8 425.1,179.1 426.8,182.4 425.5,183.6 426.0,184.4 422.7,185.2 418.5,184.8 414.4,185.2 410.3,186.1 409.1,182.4"/>
<polygon fill="#fff7ec" points="410.3,186.1 414.4,185.2 418.5,184.8 422.7,185.2 426.0,184.4 427.5,183.5 430.1,184.6 432.8,186.7 436.0,188.3 441.3,189.9 443.5,191.5 442.9,194.7 440.3,196.9 438.1,197.9 434.9,199.0 433.3,200.1 434.4,201.7 432.3,202.7 430.1,200.1 426.9,199.5 424.3,201.7 424.7,200.5 423.5,198.0 421.0,195.5 418.5,195.1 416.1,193.9 412.0,193.9 408.7,194.3 408.2,192.7 407.8,191.0 409.5,188.9"/>
<polygon fill="#fff7ec" points="418.5,195.1 421.0,195.5 423.5,198.0 424.7,200.5 424.3,201.7 422.7,200.5 421.0,198.0"/>
<polygon fill="#fff7ec" points="390.5,180.3 394.7,179.1 398.8,178.2 401.7,178.6 405.4,178.6 407.8,179.5 409.1,182.4 410.3,186.1 409.5,188.9 407.8,191.0 404.5,190.6 401.2,190.2 398.8,189.4 396.3,188.5 393.8,187.3 392.2,186.5 391.4,183.6"/>
<polygon fill="#fff7ec" points="387.2,189.4 389.7,187.7 392.2,186.5 393.8,187.3 396.3,188.5 398.8,189.4 400.0,190.6 398.8,191.8 395.9,193.1 393.0,193.5 389.7,193.1 388.5,191.4"/>
<polygon fill="#fff7ec" points="398.8,191.8 400.0,190.6 401.2,190.2 404.5,190.6 407.8,191.0 408.2,192.7 406.2,193.5 402.9,193.9 399.6,194.7 397.5,194.3"/>
<polygon fill="#fff7ec" points="397.5,194.3 399.6,194.7 402.9,193.9 406.2,193.5 408.2,192.7 408.7,194.3 407.0,196.8 405.8,198.8 402.5,200.5 399.6,200.1 397.1,199.2 396.3,198.4 396.7,196.4"/>
<polygon fill="#fff7ec" points="382.7,196.8 386.0,196.4 388.5,195.1 389.7,193.1 393.0,193.5 395.9,193.1 398.8,191.8 397.5,194.3 396.7,196.4 396.3,198.4 393.4,198.8 390.5,199.2 387.7,198.4 385.2,197.6"/>
<polygon fill="#fff7ec" points="375.7,197.6 377.4,196.4 379.0,195.9 382.7,196.8 385.2,197.6 383.9,199.2 381.5,200.1 379.0,200.5 376.9,200.9 375.3,199.2"/>
<polygon fill="#fff7ec" points="376.5,180.7 379.0,179.1 381.5,178.6 382.7,179.9 385.2,179.1 388.5,179.5 390.5,180.3 391.4,183.6 392.2,186.5 389.7,187.7 387.2,189.4 388.5,191.4 389.7,193.1 388.5,195.1 386.0,196.4 382.7,196.8 379.0,195.9 378.2,193.9 378.6,192.2 375.7,191.4 375.3,189.4 376.1,186.5 375.7,184.0"/>
<polygon fill="#fff7ec" points="378.6,177.4 378.2,174.1 379.4,172.1 381.5,171.2 382.7,172.5 381.9,174.9 381.5,178.6 379.0,179.1"/>
<polygon fill="#fff7ec" points="383.9,174.9 386.4,174.5 386.8,177.0 384.8,177.4"/>
<polygon fill="#fff7ec" points="373.2,182.4 374.9,181.1 376.5,180.7 375.7,184.0 376.1,186.5 374.5,186.9 372.8,186.1 371.6,186.5 372.4,184.4"/>
<polygon fill="#fff7ec" points="368.7,187.3 371.6,186.5 372.8,186.1 374.5,186.9 376.1,186.5 375.3,189.4 375.7,191.4 373.6,190.6 372.0,189.4 369.9,188.5"/>
<polygon fill="#fff7ec" points="369.0,209.5 364.0,207.4 361.2,202.4 360.5,198.2 356.2,196.7 353.4,194.6 358.4,192.5 359.8,190.4 363.3,191.1 368.7,187.3 369.9,188.5 372.0,189.4 373.6,190.6 375.7,191.4 378.6,192.2 378.2,193.9 379.0,195.9 377.4,196.4 375.7,197.6 375.3,199.2 376.9,200.9 377.4,202.9 378.6,205.4 376.5,206.7 373.2,207.5 369.9,208.3"/>
<polygon fill="#fff7ec" points="377.4,202.9 376.9,200.9 379.0,200.5 381.5,200.1 383.9,199.2 385.2,197.6 387.7,198.4 390.5,199.2 391.4,201.3 389.7,201.7 388.5,202.9 388.9,205.0 390.5,207.1 393.0,209.5 395.5,212.0 397.9,214.1 400.4,215.7 401.7,217.4 400.2,217.3 398.0,216.6 397.3,219.4 398.7,222.2 396.6,224.4 395.2,220.8 394.5,218.0 395.9,217.4 393.4,215.3 390.5,212.8 387.7,210.4 385.6,207.9 383.1,205.4 380.7,204.6 378.6,205.4"/>
<polygon fill="#fff7ec" points="390.5,199.2 393.4,198.8 396.3,198.4 395.9,200.1 393.4,201.3 391.4,201.3"/>
<polygon fill="#fff7ec" points="391.4,201.3 393.4,201.3 395.9,200.1 396.3,198.4 397.1,199.2 399.6,200.1 402.5,200.5 402.9,201.7 400.4,201.7 397.9,201.3 396.7,202.9 398.8,205.4 401.2,207.9 403.7,210.4 401.2,209.1 397.9,206.7 395.5,204.2 393.8,202.5 392.6,202.9"/>
<polygon fill="#fff7ec" points="396.7,202.9 397.9,201.3 400.4,201.7 402.9,201.7 403.7,203.8 403.3,205.8 402.5,207.9 401.2,207.9 398.8,205.4"/>
<polygon fill="#fff7ec" points="402.5,200.5 405.8,198.8 407.0,200.5 408.7,202.1 410.3,204.6 411.1,206.7 409.9,208.7 407.8,210.0 406.2,208.7 405.0,207.1 403.3,205.8 403.7,203.8 402.9,201.7"/>
<polygon fill="#fff7ec" points="402.5,207.9 403.3,205.8 405.0,207.1 406.2,208.7 405.4,209.1 404.1,210.4 403.7,210.4 401.2,207.9"/>
<polygon fill="#fff7ec" points="404.1,210.4 405.4,209.1 406.2,208.7 407.8,210.0 406.6,211.2 407.0,214.5 405.8,216.1 404.5,213.7"/>
<polygon fill="#fff7ec" points="406.6,211.2 407.8,210.0 409.9,208.7 411.5,210.4 412.0,212.0 410.7,212.0 408.2,212.8 407.0,214.5"/>
<polygon fill="#fff7ec" points="405.8,198.8 407.0,196.8 408.7,194.3 412.0,193.9 416.1,193.9 418.5,195.1 421.0,198.0 422.7,200.5 424.3,201.7 422.7,202.9 421.8,204.6 417.7,205.0 414.4,205.4 411.1,205.0 410.3,204.6 408.7,202.1 407.0,200.5"/>
<polygon fill="#fff7ec" points="411.1,206.7 410.3,204.6 411.1,205.0 414.4,205.4 417.7,205.0 421.8,204.6 422.2,207.1 421.0,209.5 419.4,210.8 417.7,212.0 414.4,212.4 412.0,212.0 411.5,210.4 409.9,208.7"/>
<polygon fill="#fff7ec" points="405.8,216.1 407.0,214.5 408.2,212.8 410.7,212.0 412.0,212.0 414.4,212.4 417.7,212.0 418.5,213.7 415.2,214.1 412.8,214.9 411.1,216.1 412.9,218.0 413.6,221.5 412.2,225.1 410.1,222.2 407.2,218.0"/>
<polygon fill="#fee8c8" points="418.5,211.2 419.4,210.8 421.0,209.5 422.7,211.2 421.8,213.2 419.4,213.7 418.5,213.7 417.7,212.0"/>
<polygon fill="#fff7ec" points="414.3,227.2 420.0,227.6 419.7,228.6 414.6,228.2"/>
<polygon fill="#fff7ec" points="351.4,170.9 354.2,168.4 357.1,168.8 356.4,171.6 358.5,173.7 357.8,175.9 361.3,178.0 364.2,180.8 366.3,183.7 364.9,186.5 360.6,187.2 356.4,188.6 352.8,189.3 355.7,186.5 353.5,184.4 356.4,182.9 354.2,180.1 355.7,178.0 352.8,176.6 351.7,173.7"/>
<polygon fill="#fff7ec" points="343.5,180.5 347.0,177.6 351.3,177.6 351.7,180.5 349.9,184.0 345.6,185.4 343.2,184.0"/>
<polygon fill="#fff7ec" points="378.0,123.0 382.6,122.0 388.2,121.0 395.3,121.0 401.7,122.0 401.0,123.5 396.7,123.5 398.9,125.6 395.3,127.0 393.9,124.9 391.1,125.6 389.0,128.4 385.4,127.7 381.2,125.3"/>
<polygon fill="#fff7ec" points="426.5,120.6 435.7,120.2 435.0,121.6 430.7,122.2 427.2,121.6"/>
<polygon fill="#fff7ec" points="493.6,120.4 500.0,120.0 509.0,123.0 506.0,124.4 498.0,123.0"/>
<polygon fill="#fff7ec" points="447.7,134.8 449.2,132.0 453.4,129.8 460.5,128.4 466.9,127.7 467.3,129.1 461.9,130.5 456.9,132.0 454.1,134.8 454.8,138.3 456.9,140.5 453.4,140.5 449.2,139.0 446.6,137.6"/>
<polygon fill="#fff7ec" points="339.0,119.0 345.0,119.4 342.0,120.8 338.4,120.6"/>
<polygon fill="#fff7ec" points="510.0,123.6 517.0,124.0 518.0,126.4 512.0,127.0"/>
<polygon fill="#fff7ec" points="574.0,130.0 586.0,130.0 587.0,132.0 576.0,132.4"/>
<polygon fill="#fff7ec" points="589.0,130.6 597.0,131.4 596.4,132.6 589.0,131.6"/>
<polygon fill="#fff7ec" points="585.0,134.4 591.0,135.0 590.0,136.4 585.6,136.0"/>
<polygon fill="#fff7ec" points="639.3,179.1 645.0,183.4 650.7,189.7 654.2,192.6 652.8,194.0 657.7,199.0 656.3,199.7 652.1,195.4 648.5,190.5 643.6,184.8"/>
<polygon fill="#fff7ec" points="457.0,190.3 462.7,186.0 468.3,185.3 475.4,186.7 482.5,187.5 485.3,186.7 481.8,182.5 483.9,179.7 489.6,178.2 496.7,176.1 500.9,178.2 506.6,180.4 512.2,179.0 517.2,182.5 522.2,186.0 527.8,187.5 533.5,189.6 538.4,191.7 537.7,193.8 533.5,196.7 532.1,200.9 529.2,203.0 530.7,206.6 528.5,208.0 519.3,207.3 513.7,208.7 511.5,210.8 508.0,212.2 505.2,213.7 503.0,210.8 502.3,208.0 499.5,205.9 495.9,205.2 492.4,205.9 488.2,203.7 482.5,201.6 479.7,203.0 478.2,206.6 479.7,210.8 476.8,210.1 473.3,209.4 472.6,205.2 471.9,200.9 468.3,198.1 464.1,199.5 461.2,196.7 457.7,194.5"/>
<polygon fill="#fee8c8" points="478.2,203.0 482.5,201.6 488.2,203.7 492.4,205.9 495.9,205.2 499.5,205.9 502.3,208.0 503.0,210.8 505.2,213.7 508.0,212.2 511.5,210.8 513.7,209.4 515.8,210.8 512.2,212.9 516.5,213.7 515.1,215.1 509.4,215.1 507.3,217.2 508.0,220.7 505.9,222.2 503.0,219.3 499.5,216.5 495.9,213.7 491.0,210.1 486.7,209.4 482.5,208.0 480.4,210.8 479.7,210.8 478.2,206.6"/>
<polygon fill="#fff7ec" points="473.3,210.1 476.8,210.1 479.7,210.8 480.4,210.8 482.5,208.0 486.7,209.4 491.0,210.1 495.9,213.7 499.5,216.5 503.0,219.3 505.9,222.2 504.3,223.3 499.2,227.3 496.1,228.0 492.5,224.0 488.2,221.9 483.9,220.3 480.8,220.9 477.5,223.0 474.7,219.3 474.0,214.4"/>
<polygon fill="#fff7ec" points="511.5,210.8 513.7,208.7 519.3,207.3 528.5,208.0 530.7,209.4 525.0,212.2 521.4,215.1 516.5,215.8 515.1,215.1 516.5,213.7 512.2,212.9 515.8,210.8 513.7,209.4"/>
<polygon fill="#fff7ec" points="507.2,217.2 509.0,215.8 511.5,216.5 514.4,217.2 518.0,216.9 520.8,216.5 521.5,219.4 524.4,222.6 520.8,222.6 518.7,223.7 516.5,223.0 514.7,220.4 511.5,222.6 509.4,223.0 509.0,220.4 507.9,219.4"/>
<polygon fill="#fee8c8" points="512.9,212.9 516.9,212.6 517.2,213.8 515.1,214.7 513.1,214.2"/>
<polygon fill="#fff7ec" points="538.4,192.0 543.0,190.0 547.0,188.0 556.0,189.0 558.0,185.6 560.0,185.5 565.7,186.9 571.3,189.7 575.6,189.0 581.2,191.2 588.3,190.5 594.0,189.7 597.1,191.2 597.5,194.7 603.9,195.4 606.7,198.0 599.7,201.1 594.7,202.5 594.0,205.3 583.6,210.8 575.1,209.4 566.6,208.4 560.9,205.5 555.2,203.4 549.6,201.3 546.7,197.0 542.5,194.9 538.2,192.1"/>
<polygon fill="#fc8d59" points="538.2,192.1 542.5,194.9 546.7,197.0 549.6,201.3 555.2,203.4 560.9,205.5 566.6,208.4 575.1,209.4 583.6,210.8 594.0,205.3 594.7,202.5 599.7,201.1 606.7,198.0 603.9,195.4 597.5,194.7 597.1,191.2 600.4,188.3 599.7,182.0 603.9,181.2 609.6,183.4 616.7,188.3 623.7,191.9 629.4,194.7 636.5,194.0 637.6,201.1 635.8,203.2 637.2,207.5 633.7,209.6 629.4,213.1 625.2,215.9 622.3,217.4 620.9,214.5 618.8,213.8 616.7,216.7 615.2,218.8 619.5,222.3 623.7,222.3 626.6,223.0 623.0,226.6 622.3,228.0 626.6,232.2 630.1,236.5 632.2,240.7 633.7,245.0 633.8,246.3 632.1,252.0 629.2,256.2 625.0,260.5 619.4,261.3 615.9,262.7 613.0,263.8 613.2,265.9 612.3,266.9 611.6,265.9 610.9,263.8 608.1,263.4 606.7,263.8 605.3,262.4 603.2,260.6 600.3,259.2 598.2,259.9 595.4,260.6 594.0,261.6 592.6,262.4 591.2,264.8 590.5,263.8 588.0,262.0 586.2,259.2 583.1,257.1 583.4,254.2 582.7,250.0 580.8,246.2 579.0,247.6 577.6,245.9 576.9,243.8 575.2,243.4 572.0,244.1 569.5,245.9 568.8,247.6 566.7,246.9 563.2,246.6 561.4,247.6 561.1,246.6 559.6,246.9 554.7,245.9 550.5,244.1 546.2,241.6 543.1,240.6 540.9,240.6 537.8,238.5 536.1,234.6 535.9,233.0 534.4,230.1 531.9,228.0 530.1,226.5 527.3,224.4 524.4,222.6 521.5,219.4 520.8,216.5 521.2,216.2 526.2,213.3 529.7,210.5 531.2,207.7 529.0,204.1 530.5,202.7 534.0,200.6 533.3,197.7 536.1,195.6"/>
<polygon fill="#fc8d59" points="609.2,269.1 610.9,268.0 613.4,268.0 614.5,269.1 613.4,271.2 611.6,272.2 609.9,271.5"/>
<polygon fill="#fff7ec" points="633.5,255.5 635.6,254.1 637.0,256.2 636.3,260.5 634.6,262.6 633.2,259.1"/>
<polygon fill="#fdbb84" points="496.1,228.0 499.3,227.3 504.3,223.3 509.4,223.0 511.5,222.6 514.7,220.4 516.5,223.0 518.7,223.7 520.8,222.6 524.4,222.6 523.7,223.3 520.1,223.7 518.0,225.1 518.3,227.3 517.2,230.8 515.3,230.9 514.2,235.2 512.1,237.3 510.0,241.6 506.8,242.6 502.5,243.2 499.3,242.6 498.2,239.4 497.2,235.2 495.6,232.0"/>
<polygon fill="#d7301f" points="518.0,225.1 520.1,223.7 523.7,223.3 525.1,223.7 527.3,224.4 530.1,226.5 531.9,228.0 528.7,229.4 524.4,230.1 523.7,230.8 526.2,233.2 526.9,237.4 525.5,241.7 523.4,245.9 519.1,248.0 519.8,252.3 522.7,255.8 517.0,257.2 513.5,254.4 508.5,253.7 501.4,254.1 502.8,250.2 503.6,246.9 500.7,242.6 499.3,242.6 502.5,243.2 506.8,242.6 510.0,241.6 512.1,237.3 514.2,235.2 515.3,230.9 517.2,230.8 518.3,227.3"/>
<polygon fill="#b30000" points="523.7,230.8 524.4,230.1 528.7,229.4 531.9,228.0 534.4,230.1 535.9,233.0 536.1,234.6 537.8,238.5 540.9,240.6 540.9,243.4 542.0,244.8 545.2,246.6 549.8,248.7 554.0,249.8 557.9,250.8 560.3,250.8 559.6,246.9 561.1,246.6 561.4,247.6 561.8,249.4 563.9,250.1 567.4,250.1 568.7,248.7 568.8,247.6 569.5,245.9 572.0,244.1 575.2,243.4 576.9,243.8 577.6,245.9 579.0,247.6 577.3,249.1 575.9,250.5 575.2,253.3 574.8,256.5 572.7,257.9 572.3,261.1 571.6,263.2 570.9,261.4 570.2,260.0 569.5,259.6 569.2,257.5 570.2,254.7 569.5,254.0 566.7,254.3 564.6,253.3 563.2,252.6 561.1,251.9 561.8,253.3 561.4,255.1 562.5,257.2 563.5,259.6 564.1,261.2 562.7,262.6 559.8,265.5 555.6,269.0 551.3,274.7 547.8,278.9 546.4,284.6 546.4,291.7 544.2,295.9 541.4,298.0 539.3,297.3 539.0,297.2 534.7,288.7 530.5,277.3 527.6,268.8 526.2,264.6 522.0,265.3 519.2,261.7 522.0,257.5 517.0,257.2 522.7,255.8 519.8,252.3 519.1,248.0 523.4,245.9 525.5,241.7 526.9,237.4 526.2,233.2"/>
<polygon fill="#fff7ec" points="547.1,294.5 549.9,295.9 551.6,300.2 549.9,304.4 547.1,303.7 545.7,299.4"/>
<polygon fill="#fdd49e" points="540.9,243.4 540.9,240.6 543.1,240.6 546.2,241.6 550.5,244.1 554.7,245.9 559.6,246.9 560.3,250.8 557.9,250.8 554.0,249.8 549.8,248.7 545.2,246.6 542.0,244.8"/>
<polygon fill="#fff7ec" points="561.4,247.6 563.2,246.6 566.7,246.9 568.7,248.7 567.4,250.1 563.9,250.1 561.8,249.4"/>
<polygon fill="#fc8d59" points="561.1,251.9 563.2,252.6 564.6,253.3 566.7,254.3 569.5,254.0 570.2,254.7 569.2,257.5 569.5,259.6 568.5,259.3 567.8,261.1 566.3,262.1 564.6,261.8 563.5,259.6 562.5,257.2 561.4,255.1 561.8,253.3"/>
<polygon fill="#fdd49e" points="579.0,247.6 580.8,246.2 582.7,250.0 583.4,254.2 583.1,257.1 586.2,259.2 588.0,262.0 590.5,263.8 591.2,264.8 589.1,266.6 585.9,268.7 584.5,271.9 585.2,274.0 586.6,276.8 588.0,279.6 589.1,283.2 590.5,286.7 591.2,289.5 590.5,292.0 589.1,291.6 588.5,288.5 587.3,284.6 585.9,281.1 584.8,277.5 583.8,276.8 582.0,278.2 579.9,278.6 577.8,277.2 577.4,274.0 576.0,271.2 574.2,267.6 572.8,265.2 571.4,264.1 571.6,263.2 572.3,261.1 572.7,257.9 574.8,256.5 575.2,253.3 575.9,250.5 577.3,249.1"/>
<polygon fill="#fff7ec" points="584.5,271.9 585.9,268.7 589.1,266.6 590.5,265.9 590.8,267.3 592.6,269.1 592.9,271.9 594.3,272.9 597.2,272.2 599.6,273.6 601.8,275.8 602.8,278.2 603.2,281.4 602.5,282.8 599.6,283.5 597.9,284.6 597.9,287.1 596.5,286.7 594.3,284.9 592.6,285.6 591.2,288.5 591.7,291.7 593.1,295.9 595.9,300.2 598.1,303.0 595.9,304.4 593.1,301.6 590.3,297.3 590.5,292.0 591.2,289.5 590.5,286.7 589.1,283.2 588.0,279.6 586.6,276.8 585.2,274.0"/>
<polygon fill="#fff7ec" points="591.2,264.8 592.6,262.4 594.0,261.6 595.8,264.1 597.9,265.2 600.0,266.2 601.1,267.6 599.3,269.4 601.1,271.2 603.9,273.3 606.7,276.5 608.5,279.3 608.8,282.1 606.7,283.2 604.6,282.1 603.2,281.4 602.8,278.2 601.8,275.8 599.6,273.6 597.2,272.2 594.3,272.9 592.9,271.9 592.6,269.1 590.8,267.3 590.5,265.9"/>
<polygon fill="#fee8c8" points="594.0,261.6 595.4,260.6 598.2,259.9 600.3,259.2 603.2,260.6 605.3,262.4 606.7,263.8 604.2,265.9 602.8,268.7 602.5,270.5 604.6,272.6 607.4,275.4 610.2,278.2 612.3,281.4 613.4,285.3 612.7,288.8 610.2,291.6 608.1,292.0 608.5,289.5 609.9,287.1 609.5,283.9 608.8,282.1 608.5,279.3 606.7,276.5 603.9,273.3 601.1,271.2 599.3,269.4 601.1,267.6 600.0,266.2 597.9,265.2 595.8,264.1"/>
<polygon fill="#fee8c8" points="597.9,284.6 599.6,283.5 602.5,282.8 604.6,282.1 606.7,283.2 608.8,282.1 609.5,283.9 609.9,287.1 608.5,289.5 606.3,290.9 603.9,292.0 601.1,291.6 598.9,289.5 597.9,287.1"/>
<polygon fill="#fff7ec" points="593.1,301.6 595.9,304.4 598.1,303.0 600.9,307.2 602.3,312.9 603.0,317.2 600.2,317.9 597.4,315.0 594.5,310.1 593.1,305.1"/>
<polygon fill="#fdbb84" points="637.4,272.5 640.2,271.7 641.6,274.6 640.9,278.1 641.6,281.7 643.7,283.1 646.6,284.5 648.7,287.3 646.6,286.6 643.7,285.2 641.6,284.5 640.9,287.3 638.8,284.5 637.4,280.2 636.7,276.0"/>
<polygon fill="#fdbb84" points="642.3,289.4 644.4,288.7 645.9,290.9 648.0,290.2 649.4,288.0 650.8,290.9 649.4,293.7 647.3,293.0 645.9,295.8 644.4,294.4 643.0,291.6"/>
<polygon fill="#fdbb84" points="643.7,299.4 647.3,298.7 650.1,295.8 652.9,295.8 654.4,300.1 653.7,304.3 650.8,305.0 648.7,302.2 645.9,301.5 643.7,301.5"/>
<polygon fill="#fdbb84" points="632.4,297.9 637.4,290.9 638.1,291.6 633.5,298.7"/>
<polygon fill="#fc8d59" points="582.8,306.3 588.5,306.0 594.8,313.4 601.9,319.8 606.9,325.5 607.9,330.4 606.4,335.4 604.7,334.7 599.1,328.3 593.4,321.2 587.7,313.4"/>
<polygon fill="#fc8d59" points="606.0,336.0 610.0,335.6 618.0,338.0 626.0,340.0 629.0,342.0 624.0,342.4 616.0,341.0 609.0,339.0"/>
<polygon fill="#fc8d59" points="632.0,342.0 636.0,341.4 636.4,343.0 632.4,343.6"/>
<polygon fill="#fc8d59" points="639.0,342.0 645.0,341.0 645.6,342.4 640.0,343.4"/>
<polygon fill="#fc8d59" points="637.0,345.0 640.0,345.6 639.6,347.0"/>
<polygon fill="#fc8d59" points="647.0,345.6 652.0,342.6 654.0,342.6 649.0,346.8"/>
<polygon fill="#fff7ec" points="652.0,342.6 655.6,341.6 656.0,342.6 654.0,343.2"/>
<polygon fill="#fff7ec" points="615.4,316.2 618.9,313.4 624.6,309.9 629.5,305.6 632.4,302.1 635.2,303.5 637.3,306.3 635.2,307.7 632.4,308.5 626.7,313.1 621.7,316.5 617.5,317.7"/>
<polygon fill="#fc8d59" points="614.7,316.2 617.5,317.7 621.7,316.5 626.7,313.1 632.4,308.5 635.2,309.9 635.9,316.2 637.0,317.7 634.5,321.2 632.4,325.5 631.7,329.7 627.4,330.4 623.2,328.3 618.2,327.6 615.4,323.3 614.4,319.1"/>
<polygon fill="#fc8d59" points="637.3,327.6 638.7,322.6 640.9,318.4 644.4,317.0 648.7,317.7 652.2,316.0 651.5,317.7 647.9,319.8 643.7,320.5 642.3,322.6 645.8,322.6 647.9,321.9 646.5,324.0 644.4,325.5 645.8,329.7 647.2,333.2 645.1,334.0 643.0,329.7 641.6,327.6 640.9,331.8 640.4,334.7 638.0,334.0"/>
<polygon fill="#fc8d59" points="657.4,315.0 659.4,314.4 660.0,320.0 658.0,321.0"/>
<polygon fill="#fc8d59" points="654.0,328.0 657.0,327.6 657.2,328.8 654.2,329.0"/>
<polygon fill="#fc8d59" points="659.0,327.0 664.0,328.0 663.0,329.6 659.0,328.6"/>
<polygon fill="#fc8d59" points="664.2,321.9 668.5,320.8 672.0,322.6 672.7,325.5 677.0,326.9 680.5,324.7 686.9,326.9 686.9,342.5 684.1,341.0 680.5,341.7 681.2,338.2 679.8,334.7 676.3,331.1 672.7,329.0 669.2,329.7 667.1,327.6 667.8,325.5 665.7,323.3"/>
<polygon fill="#fc8d59" points="672.0,334.0 673.6,334.4 672.8,337.6"/>
<polygon fill="#fee8c8" points="687.0,326.0 692.0,328.0 698.0,332.0 702.0,336.0 700.0,337.0 703.0,342.0 709.0,347.0 704.0,346.4 699.0,343.0 694.0,343.0 690.0,344.0 687.0,343.0"/>
<polygon fill="#fee8c8" points="704.4,335.0 710.0,334.0 714.0,330.0 715.0,332.0 711.0,336.0 706.0,336.4"/>
<polygon fill="#fff7ec" points="719.0,334.0 722.0,337.0 721.2,338.0 718.4,335.0"/>
<polygon fill="#fff7ec" points="725.0,339.0 730.0,342.0 729.0,343.0 724.4,340.0"/>
<polygon fill="#fff7ec" points="732.0,345.0 735.0,348.0 734.2,348.6 731.4,345.8"/>
<polygon fill="url(#hatch)" points="734.4,373.0 736.0,372.4 740.0,377.6 738.8,378.6"/>
<polygon fill="#fff7ec" points="743.0,358.6 744.4,358.4 745.2,362.8 743.8,363.0"/>
<polygon fill="#fff7ec" points="766.4,365.6 769.0,364.4 769.6,366.4 767.2,367.6"/>
<polygon fill="#fff7ec" points="770.4,363.0 773.2,362.0 773.6,363.2 771.0,364.0"/>
<polygon fill="#fff7ec" points="614.4,409.0 617.0,400.0 616.4,390.0 619.0,380.0 621.0,377.0 630.0,373.0 638.0,369.0 644.0,364.0 649.0,358.0 654.0,356.0 658.0,358.0 661.0,352.0 666.0,350.0 669.0,351.6 676.0,352.4 674.0,358.0 678.0,362.0 683.0,365.6 686.0,360.0 688.0,351.0 690.0,348.0 692.0,354.0 695.0,360.0 696.0,367.0 700.0,373.0 703.0,380.0 706.0,388.0 704.0,394.0 698.0,403.0 690.0,411.0 682.0,418.0 675.0,421.6 669.0,420.0 665.0,415.0 664.0,407.0 660.0,411.0 658.0,407.0 654.0,403.0 646.0,402.4 636.0,405.0 626.0,408.0 617.0,411.6"/>
<polygon fill="#fff7ec" points="669.0,427.0 677.0,426.4 675.0,431.0 670.0,433.6 667.6,432.0"/>
<polygon fill="#fff7ec" points="739.0,410.4 741.0,412.0 742.4,417.0 747.0,418.4 743.0,422.0 738.0,425.0 733.0,428.4 732.0,426.0 735.0,421.0 739.0,417.0"/>
<polygon fill="#fff7ec" points="728.0,426.0 731.0,428.0 724.0,433.0 716.0,438.0 709.0,441.6 705.4,439.6 712.0,435.0 720.0,431.0"/>
<polygon fill="#fff7ec" points="622.3,217.4 625.2,215.9 629.4,213.1 633.7,209.6 637.2,207.5 637.6,209.6 635.1,211.7 634.4,214.5 636.5,215.9 635.1,218.8 631.5,220.9 629.4,218.8 627.7,216.7"/>
<polygon fill="#fff7ec" points="635.1,218.8 639.3,220.2 643.6,225.9 642.9,229.4 638.6,230.1 636.5,226.6 635.1,222.3 631.5,220.9"/>
<polygon fill="#fff7ec" points="656.3,206.7 659.2,203.9 664.1,204.6 666.5,206.0 663.4,208.9 661.3,211.0 658.4,210.3"/>
<polygon fill="#fff7ec" points="659.9,211.7 663.4,214.5 666.2,219.5 668.4,225.9 665.5,228.7 662.0,230.8 657.7,232.2 654.2,232.9 650.7,234.4 647.1,233.7 648.5,231.5 652.1,228.7 656.3,226.6 658.4,222.3 660.6,218.1"/>
<polygon fill="#fff7ec" points="647.1,233.7 650.7,235.1 652.1,237.2 649.9,238.6 647.8,236.5"/>
<polygon fill="#fee8c8" points="421.1,213.4 425.9,212.3 430.1,211.8 433.9,210.7 438.1,210.7 442.9,211.8 447.7,212.8 450.4,211.2 454.1,212.3 456.8,213.9 457.8,216.0 457.3,218.7 458.4,221.9 454.1,222.4 450.9,223.0 445.6,223.5 441.9,224.0 440.3,225.1 437.1,223.5 432.8,224.6 428.5,225.1 425.3,224.0 422.1,221.9 420.0,220.8 418.9,217.6 420.0,215.0"/>
<polygon fill="#fff7ec" points="449.3,208.6 453.0,209.1 456.8,210.2 460.0,211.8 459.4,212.8 456.8,213.9 454.1,212.3 450.4,211.2"/>
<polygon fill="#fff7ec" points="456.8,213.9 459.4,212.8 461.0,215.5 462.1,217.6 460.0,217.1 457.8,216.0"/>
<polygon fill="#fff7ec" points="460.0,211.8 462.6,212.3 464.8,211.2 467.4,214.4 468.5,216.0 466.9,216.6 466.9,219.8 465.3,218.7 462.1,217.6 461.0,215.5 459.4,212.8"/>
<polygon fill="#fee8c8" points="458.4,221.9 457.3,218.7 457.8,216.0 460.0,217.1 462.1,217.6 465.3,218.7 466.9,219.8 468.0,219.8 469.6,221.9 473.3,223.5 477.6,223.0 480.8,220.8 484.0,220.3 488.2,221.9 492.5,224.0 495.7,227.2 496.2,230.4 496.8,234.7 500.7,242.6 503.6,246.9 502.9,250.4 501.4,254.0 497.2,253.2 490.8,252.5 489.4,250.4 486.6,251.1 482.3,247.6 478.1,244.0 474.5,241.9 471.7,241.9 468.9,241.2 466.7,238.4 462.5,234.1 463.2,230.6 460.4,226.3 458.2,222.8"/>
<polygon fill="#fff7ec" points="441.7,224.5 444.9,224.0 450.3,222.9 452.9,224.0 451.9,227.7 450.3,230.9 446.0,233.6 443.3,234.6 442.3,232.0 441.2,228.3"/>
<polygon fill="#fee8c8" points="452.9,224.0 454.5,222.4 458.3,221.3 459.3,224.0 462.5,227.2 462.0,229.9 465.2,233.0 467.8,236.8 469.4,241.0 466.8,242.1 465.7,243.7 463.0,242.6 458.8,240.0 454.0,236.2 449.2,233.6 450.3,230.9 451.9,227.7"/>
<polygon fill="#fff7ec" points="433.3,227.8 437.1,226.7 436.0,228.3 433.9,228.8"/>
<polygon fill="#fff7ec" points="443.4,242.6 448.3,237.7 453.3,235.5 449.2,233.6 446.0,233.6 443.3,234.6 442.3,232.0 441.7,236.2 441.2,242.1"/>
<polygon fill="#fff7ec" points="441.2,228.3 442.3,232.0 441.7,236.2 441.2,242.1 440.1,239.4 439.6,234.1 440.1,229.9"/>
<polyline fill="none" points="440.1,230.9 441.9,230.7"/>
<polygon fill="#fff7ec" points="441.2,243.3 443.4,242.6 448.3,237.7 453.3,235.5 459.7,239.8 465.3,243.3 468.9,242.6 471.7,245.5 474.5,250.4 476.7,254.7 479.5,256.8 480.9,260.3 487.3,261.7 488.0,264.6 486.6,269.5 480.9,270.9 474.5,272.4 469.6,274.5 462.5,275.9 461.1,278.7 459.0,277.3 456.1,271.7 451.9,264.6 447.6,257.5 443.4,250.4 441.2,245.5"/>
<polygon fill="#fff7ec" points="467.5,241.9 468.9,241.2 469.9,243.0 468.4,243.6"/>
<polygon fill="#fdd49e" points="461.1,278.7 462.5,275.9 469.6,274.5 474.5,272.4 480.9,270.9 483.0,275.9 479.5,279.4 473.8,282.3 468.2,284.4 463.2,286.5 461.8,284.4"/>
<polygon fill="#fff7ec" points="480.9,270.9 486.6,269.5 488.0,264.6 489.4,260.3 488.7,256.1 490.8,255.4 493.7,258.2 497.6,261.0 496.5,264.6 493.7,268.8 491.5,271.7 486.6,274.5 483.0,275.9"/>
<polygon fill="#fff7ec" points="479.5,256.8 483.7,256.1 488.0,253.2 489.4,251.8 489.4,255.4 488.7,256.1 489.4,260.3 487.3,261.7 480.9,260.3"/>
<polygon fill="#fff7ec" points="476.9,252.5 478.1,252.1 478.4,254.7 477.2,254.9"/>
<polygon fill="#fff" points="422.1,205.9 424.3,201.7 426.9,199.5 430.1,200.1 432.3,202.7 434.4,201.7 433.3,200.1 434.9,199.0 438.1,197.9 440.3,200.1 438.1,202.2 441.3,203.3 445.6,205.9 449.3,208.6 450.4,211.2 447.7,212.8 442.9,211.8 438.1,210.7 433.9,210.7 430.1,211.8 425.9,212.3 422.7,210.7"/>
<polygon fill="#fff" points="460.0,203.8 462.6,200.6 466.9,197.9 471.2,197.9 472.5,200.1 470.1,201.7 468.5,203.8 470.1,206.4 472.8,209.1 474.9,209.6 477.0,210.7 478.4,212.8 476.5,213.9 478.1,217.1 478.6,220.8 477.6,223.0 473.3,223.5 469.6,221.9 468.0,219.8 467.4,216.6 468.5,216.0 467.4,214.4 464.8,211.2 463.7,208.6 461.6,206.4"/>
<polygon fill="#fdd49e" points="9.0,267.0 11.0,266.4 12.0,269.0 10.0,270.4"/>
<polygon fill="#fdd49e" points="6.0,263.8 8.0,264.4 7.6,265.6 6.2,265.0"/>
<polygon fill="#fdd49e" points="2.4,261.8 3.8,262.2 3.6,263.0 2.4,262.6"/>
<polygon fill="#fff7ec" points="379.0,318.6 380.4,318.6 380.4,320.0 379.0,320.0"/>
<polygon fill="#fff7ec" points="461.6,349.0 463.0,349.0 463.0,350.4 461.6,350.4"/>
<polygon fill="#fff7ec" points="463.1,349.9 464.5,349.9 464.5,351.3 463.1,351.3"/>
<polygon fill="#fff7ec" points="489.1,329.6 490.5,329.6 490.5,331.0 489.1,331.0"/>
<polygon fill="#fff7ec" points="492.8,371.8 494.2,371.8 494.2,373.2 492.8,373.2"/>
<polygon fill="#fff7ec" points="490.3,372.8 491.7,372.8 491.7,374.2 490.3,374.2"/>
<polygon fill="#fff7ec" points="307.8,275.8 309.2,275.8 309.2,277.2 307.8,277.2"/>
<polygon fill="#fff7ec" points="309.3,277.3 310.7,277.3 310.7,278.7 309.3,278.7"/>
<polygon fill="#fff7ec" points="306.8,278.3 308.2,278.3 308.2,279.7 306.8,279.7"/>
</g>
<!-- legend -->
<g id="legend">
<text class="lg" x="117.5" y="530" text-anchor="middle">No data</text>
<line x1="117.7" y1="534.4" x2="117.7" y2="537" stroke="#999" stroke-width="0.6"/>
<rect x="93.5" y="536.8" width="48" height="11.7" fill="url(#hatch)" stroke="#ccc" stroke-width="0.8"/>
<rect x="161.5" y="536.8" width="66" height="11.7" fill="#fff7ec"/>
<rect x="227.5" y="536.8" width="66" height="11.7" fill="#fee8c8"/>
<rect x="293.5" y="536.8" width="66" height="11.7" fill="#fdd49e"/>
<rect x="359.5" y="536.8" width="66" height="11.7" fill="#fdbb84"/>
<rect x="425.5" y="536.8" width="66" height="11.7" fill="#fc8d59"/>
<rect x="491.5" y="536.8" width="66" height="11.7" fill="#ef6548"/>
<rect x="557.5" y="536.8" width="66" height="11.7" fill="#d7301f"/>
<rect x="623.5" y="536.8" width="66" height="11.7" fill="#b30000"/>
<rect x="689.5" y="536.8" width="66" height="11.7" fill="#7f0000"/>
<rect x="161.5" y="536.8" width="594" height="11.7" fill="none" stroke="#ccc" stroke-width="0.6"/>
<g stroke="#777" stroke-width="0.5">
<line x1="161.5" y1="534.4" x2="161.5" y2="548.5"/>
<line x1="227.5" y1="534.4" x2="227.5" y2="548.5"/>
<line x1="293.5" y1="534.4" x2="293.5" y2="548.5"/>
<line x1="359.5" y1="534.4" x2="359.5" y2="548.5"/>
<line x1="425.5" y1="534.4" x2="425.5" y2="548.5"/>
<line x1="491.5" y1="534.4" x2="491.5" y2="548.5"/>
<line x1="557.5" y1="534.4" x2="557.5" y2="548.5"/>
<line x1="623.5" y1="534.4" x2="623.5" y2="548.5"/>
<line x1="689.5" y1="534.4" x2="689.5" y2="548.5"/>
<line x1="755.5" y1="534.4" x2="755.5" y2="548.5"/>
</g>
<g class="lg" text-anchor="middle">
<text x="161.5" y="530">0</text>
<text x="227.5" y="530">5,000</text>
<text x="293.5" y="530">10,000</text>
<text x="359.5" y="530">25,000</text>
<text x="425.5" y="530">50,000</text>
<text x="491.5" y="530">100,000</text>
<text x="557.5" y="530">250,000</text>
<text x="623.5" y="530">500,000</text>
<text x="689.5" y="530">1 million</text>
<text x="755.5" y="530">2.5 million</text>
</g>
</g>
<!-- footer -->
<text class="ft" x="16" y="581" textLength="299.5" lengthAdjust="spacingAndGlyphs"><tspan font-weight="bold">Data source:</tspan> IHME, Global Burden of Disease (2019)</text>
<text class="ft" x="579" y="581" textLength="251.5" lengthAdjust="spacingAndGlyphs">OurWorldinData.org/child-mortality | CC BY</text>
</svg>
</body></html>
